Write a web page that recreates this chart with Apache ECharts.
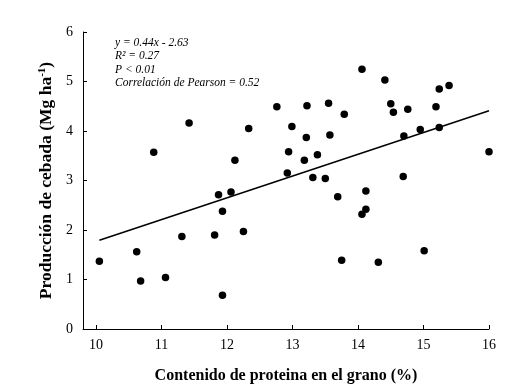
<!DOCTYPE html>
<html><head><meta charset="utf-8">
<script src="https://cdn.jsdelivr.net/npm/echarts@6/dist/echarts.min.js"></script>
<style>html,body{margin:0;padding:0;background:#fff}#c{width:512px;height:384px}</style>
</head><body><div id="c"></div>
<script>
const proteina = [10.05,10.62,10.68,11.06,11.31,11.81,11.87,12.06,11.93,12.25,11.93,12.76,11.42,12.33,12.99,10.88,12.12,12.94,12.92,14.06,14.41,15.24,15.39,13.22,13.55,13.79,14.50,14.54,14.76,15.19,13.21,13.57,13.18,13.38,14.70,14.95,15.24,16.00,13.31,13.50,14.69,13.69,14.12,14.12,14.06,15.01,13.75,14.31];
const produccion = [1.37,1.56,0.97,1.04,1.87,1.90,2.71,2.77,2.38,1.97,0.68,4.49,4.16,4.05,4.09,3.57,3.41,3.58,3.15,5.25,5.03,4.85,4.92,4.51,4.56,4.34,4.55,4.38,4.44,4.49,3.87,3.92,3.41,3.52,3.90,4.03,4.07,3.58,3.06,3.04,3.08,2.67,2.79,2.42,2.32,1.58,1.39,1.35];
const slope = 0.44, intercept = -2.63;
const xTicks = [10,11,12,13,14,15,16];
const yTicks = [0,1,2,3,4,5,6];
const annot = ['y = 0.44x - 2.63','R\u00B2 = 0.27','P < 0.01','Correlación de Pearson = 0.52'];

const pts = proteina.map((x,i)=>[x,produccion[i]]);
const xMinD = Math.min(...proteina), xMaxD = Math.max(...proteina);
const fit = [[xMinD, slope*xMinD+intercept],[xMaxD, slope*xMaxD+intercept]];
const serif = '"Liberation Serif","Times New Roman",serif';

const chart = echarts.init(document.getElementById('c'));
chart.setOption({
  animation:false,
  grid:{left:83,right:23,top:32,bottom:55,containLabel:false,outerBoundsMode:'none'},
  xAxis:{type:'value',min:9.8,max:16,
    name:'Contenido de proteina en el grano (%)',nameLocation:'middle',nameGap:39,
    nameTextStyle:{fontFamily:serif,fontWeight:'bold',fontSize:16,color:'#000'},
    axisLine:{onZero:false,lineStyle:{color:'#000',width:1}},
    axisTick:{inside:true,length:4,lineStyle:{color:'#000'},customValues:xTicks},
    axisLabel:{customValues:xTicks,fontFamily:serif,fontSize:14,color:'#000',margin:9},
    splitLine:{show:false}},
  yAxis:{type:'value',min:0,max:6,interval:1,
    name:'{a|Producción de cebada (Mg ha}{s|-1}{a|)}',nameLocation:'middle',nameGap:16,
    nameTextStyle:{rich:{a:{fontFamily:serif,fontWeight:'bold',fontSize:17.5,color:'#000'},
      s:{fontFamily:serif,fontWeight:'bold',fontSize:11,color:'#000',verticalAlign:'top',padding:[0,0,8,0]}}},
    axisLine:{show:true,onZero:false,lineStyle:{color:'#000',width:1}},
    axisTick:{show:true,inside:true,length:4,lineStyle:{color:'#000'}},
    axisLabel:{fontFamily:serif,fontSize:14,color:'#000',margin:10},
    splitLine:{show:false}},
  graphic:annot.map((t,i)=>({type:'text',left:115,top:36.5+i*13.5,
    style:{text:t,font:'italic 11.5px '+serif,fill:'#000'}})),
  series:[
    {type:'scatter',data:pts,symbol:'circle',symbolSize:7.5,itemStyle:{color:'#000',opacity:1},z:3},
    {type:'line',data:fit,symbol:'none',lineStyle:{color:'#000',width:1.5},z:2}
  ]
});
</script></body></html>
